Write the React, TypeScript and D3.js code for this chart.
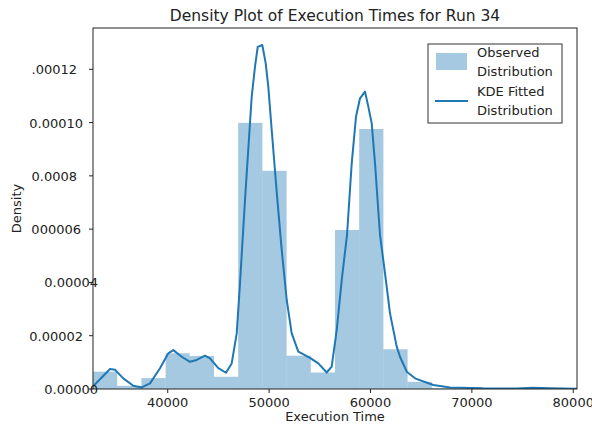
import React from "react";
import * as d3 from "d3";

const binStart = 32630;
const binEnd = 80370;
const binDensities = [
  6.5e-6, 1.2e-6, 4.1e-6, 13.4e-6, 12.4e-6, 4.6e-6, 99.9e-6, 81.9e-6, 12.5e-6, 6.2e-6,
  59.7e-6, 97.6e-6, 14.9e-6, 2.7e-6, 0.3e-6, 0.1e-6, 0.1e-6, 0.1e-6, 0.2e-6, 0.1e-6,
];

const kdeX = [
  32660, 33488, 34307, 34800, 35619, 36605, 37434, 38253, 39239, 40058, 40551, 41380, 42198,
  42859, 43678, 44171, 44990, 45749, 46311, 46805, 47130, 47623, 48284, 48610, 48876, 49330,
  49665, 49922, 50257, 50750, 51243, 51737, 52230, 52881, 54035, 54854, 55682, 56175, 56669,
  57162, 57685, 58148, 58572, 58967, 59460, 59786, 60121, 60446, 60940, 61433, 61926, 62587,
  62913, 63574, 64392, 66197, 67845, 71100, 74424, 76032, 77709, 80370,
];
const kdeY = [
  1.1, 4.3, 7.5, 7.2, 4.0, 1.2, 0.6, 2.1, 7.8, 13.4, 14.6, 12.1, 10.2,
  10.9, 12.5, 11.5, 7.8, 6.1, 9.6, 20.9, 39.7, 71, 109.7, 121, 128.4, 129.1,
  122.2, 113.4, 97.2, 74, 52.2, 33.4, 20.9, 14.0, 11.7, 9.6, 6.2, 8.4, 22.1,
  40.9, 57.8, 84.7, 102.2, 109.1, 111.6, 106, 99.7, 84.7, 57.8, 43.4, 28.4, 15.9,
  12.1, 6.5, 4.0, 1.5, 0.6, 0.26, 0.2, 0.45, 0.25, 0.1,
].map((v) => v * 1e-6);

const xTicks = [40000, 50000, 60000, 70000, 80000];
const yTicks = [0.00012, 0.0001, 0.00008, 0.00006, 0.00004, 0.00002, 0];
const yTickLabels = [".00012", "0.00010", "0.0008", "000006", "0.00004", "0.00002", "0.00000"];

const title = "Density Plot of Execution Times for Run 34";
const xLabel = "Execution Time";
const yLabel = "Density";
const legendLabels = [["Observed", "Distribution"], ["KDE Fitted", "Distribution"]];

export default function App() {
  const W = 592, H = 434;
  const left = 93, right = 577, top = 28, bottom = 389;
  const x = d3.scaleLinear().domain([binStart, binEnd]).range([left, right]);
  const y = d3.scaleLinear().domain([0, 0.0001355]).range([bottom, top]);
  const blue = "#1f77b4";
  const font = "DejaVu Sans, sans-serif";
  const binW = (binEnd - binStart) / binDensities.length;
  const line = d3
    .line<number>()
    .x((_, i) => x(kdeX[i]))
    .y((d) => y(d));
  const yLabelDx = [-6, 0, -6, -2, 15, 0, 15];

  return (
    <svg
      width={W}
      height={H}
      style={{ position: "absolute", left: 0, top: 0, background: "#fff" }}
      fontFamily={font}
    >
      <rect x={0} y={0} width={W} height={H} fill="#fff" />
      <defs>
        <clipPath id="plotclip">
          <rect x={left} y={top} width={right - left} height={bottom - top} />
        </clipPath>
      </defs>
      <g clipPath="url(#plotclip)">
        {binDensities.map((d, i) => {
          const x0 = x(binStart + i * binW);
          const x1 = x(binStart + (i + 1) * binW);
          return (
            <rect
              key={i}
              x={x0}
              y={y(d)}
              width={x1 - x0}
              height={bottom - y(d)}
              fill={blue}
              fillOpacity={0.4}
            />
          );
        })}
        <path d={line(kdeY) || ""} fill="none" stroke={blue} strokeWidth={2} strokeLinejoin="round" />
      </g>
      <rect x={left} y={top} width={right - left} height={bottom - top} fill="none" stroke="#222" strokeWidth={1} />
      {xTicks.map((t) => (
        <g key={t}>
          <line x1={x(t)} x2={x(t)} y1={bottom} y2={bottom + 4} stroke="#222" />
          <text x={x(t)} y={bottom + 18} textAnchor="middle" fontSize={13} fill="#222">
            {t}
          </text>
        </g>
      ))}
      {yTicks.map((t, i) => (
        <g key={t}>
          <line x1={left - 4} x2={left} y1={y(t)} y2={y(t)} stroke="#222" />
          <text x={83 + yLabelDx[i]} y={y(t) + 5} textAnchor="end" fontSize={13} fill="#222">
            {yTickLabels[i]}
          </text>
        </g>
      ))}
      <text x={(left + right) / 2} y={21} textAnchor="middle" fontSize={15.5} fill="#222">
        {title}
      </text>
      <text x={(left + right) / 2} y={421} textAnchor="middle" fontSize={13} fill="#222">
        {xLabel}
      </text>
      <text
        transform={`translate(21, ${(top + bottom) / 2}) rotate(-90)`}
        textAnchor="middle"
        fontSize={13}
        fill="#222"
      >
        {yLabel}
      </text>
      <g>
        <rect x={428} y={44} width={134} height={79} fill="#fff" stroke="#333" strokeWidth={1} />
        <rect x={436} y={53} width={31} height={17} fill={blue} fillOpacity={0.4} />
        <line x1={435} x2={468} y1={101} y2={101} stroke={blue} strokeWidth={2} />
        {legendLabels.map((lines, i) =>
          lines.map((s, j) => (
            <text key={`${i}-${j}`} x={477} y={57 + i * 39 + j * 19} fontSize={13} fill="#222">
              {s}
            </text>
          ))
        )}
      </g>
    </svg>
  );
}
